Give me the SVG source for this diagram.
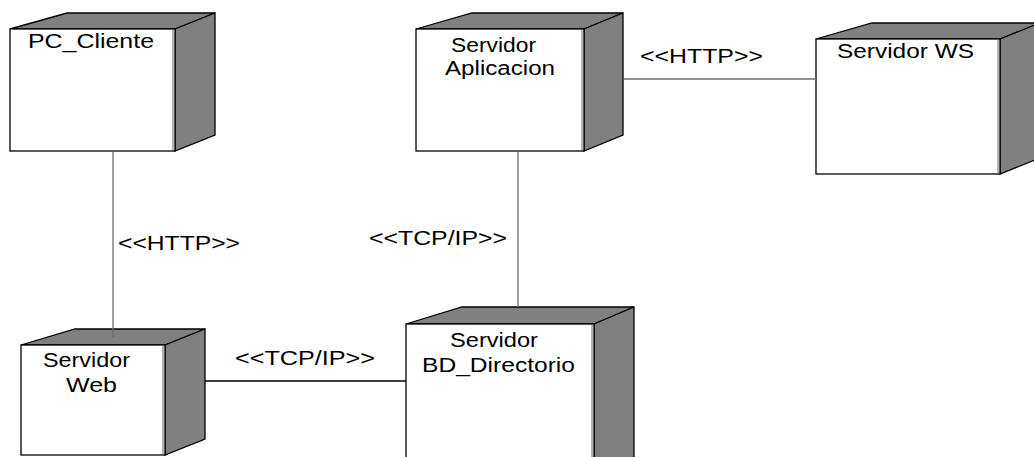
<svg xmlns="http://www.w3.org/2000/svg" width="1034" height="457" viewBox="0 0 1034 457">
  <style>
    .front { fill: #ffffff; stroke: #000000; stroke-width: 1.3; }
    .side { fill: #808080; stroke: #000000; stroke-width: 1.3; stroke-linejoin: miter; }
    .edge { stroke: #9a9a9a; stroke-width: 1.5; }
    .lbl { font-family: "Liberation Sans", Arial, sans-serif; font-size: 20px; fill: #000000; text-anchor: middle; }
    .conn { fill: none; stroke-width: 1.3; }
    .gray { stroke: #6e6e6e; }
    .dark { stroke: #000000; }
  </style>
  <rect width="1034" height="457" fill="#ffffff"/>

  <!-- PC_Cliente -->
  <g id="pc-cliente">
    <polygon class="side" points="10,29 67,13 215,13 175,29"/>
    <polygon class="side" points="175,29 215,13 215,135 175,151"/>
    <rect class="front" x="10" y="29" width="165" height="122"/>
    <line class="edge" x1="173" y1="30" x2="173" y2="150"/>
    <text class="lbl" x="91" y="48" textLength="126" lengthAdjust="spacingAndGlyphs">PC_Cliente</text>
  </g>

  <!-- Servidor Aplicacion -->
  <g id="servidor-aplicacion">
    <polygon class="side" points="416,29 472,13 623,13 584,29"/>
    <polygon class="side" points="584,29 623,13 623,135 584,151"/>
    <rect class="front" x="416" y="29" width="168" height="122"/>
    <line class="edge" x1="582" y1="30" x2="582" y2="150"/>
    <text class="lbl" x="493.5" y="52" textLength="85" lengthAdjust="spacingAndGlyphs">Servidor</text>
    <text class="lbl" x="500" y="75" textLength="110" lengthAdjust="spacingAndGlyphs">Aplicacion</text>
  </g>

  <!-- Servidor WS -->
  <g id="servidor-ws">
    <polygon class="side" points="816,39 872,23 1040,23 1000,39"/>
    <polygon class="side" points="1000,39 1040,23 1040,158 1000,174"/>
    <rect class="front" x="816" y="39" width="184" height="135"/>
    <line class="edge" x1="998" y1="40" x2="998" y2="173"/>
    <text class="lbl" x="905.5" y="58" textLength="137" lengthAdjust="spacingAndGlyphs">Servidor WS</text>
  </g>

  <!-- Servidor Web -->
  <g id="servidor-web">
    <polygon class="side" points="21,345 75,329 205,329 165,345"/>
    <polygon class="side" points="165,345 205,329 205,439 165,455"/>
    <rect class="front" x="21" y="345" width="144" height="110"/>
    <line class="edge" x1="163" y1="346" x2="163" y2="454"/>
    <text class="lbl" x="86.5" y="367" textLength="87" lengthAdjust="spacingAndGlyphs">Servidor</text>
    <text class="lbl" x="91.5" y="392" textLength="51" lengthAdjust="spacingAndGlyphs">Web</text>
  </g>

  <!-- Servidor BD_Directorio -->
  <g id="servidor-bd-directorio">
    <polygon class="side" points="406,324 462,307 634,307 594,324"/>
    <polygon class="side" points="594,324 634,307 634,457 594,474"/>
    <rect class="front" x="406" y="324" width="188" height="150"/>
    <line class="edge" x1="592" y1="325" x2="592" y2="473"/>
    <text class="lbl" x="494" y="347" textLength="88" lengthAdjust="spacingAndGlyphs">Servidor</text>
    <text class="lbl" x="498.5" y="372" textLength="153" lengthAdjust="spacingAndGlyphs">BD_Directorio</text>
  </g>

  <!-- communication links -->
  <g id="connectors">
    <line class="conn gray" x1="113" y1="152" x2="113" y2="337"/>
    <line class="conn gray" x1="518" y1="152" x2="518" y2="307"/>
    <line class="conn gray" x1="624" y1="79" x2="816" y2="79"/>
    <line class="conn dark" x1="205" y1="381" x2="406" y2="381"/>
    <text class="lbl" x="179" y="250" textLength="122" lengthAdjust="spacingAndGlyphs">&lt;&lt;HTTP&gt;&gt;</text>
    <text class="lbl" x="438" y="245" textLength="138" lengthAdjust="spacingAndGlyphs">&lt;&lt;TCP/IP&gt;&gt;</text>
    <text class="lbl" x="305" y="365" textLength="140" lengthAdjust="spacingAndGlyphs">&lt;&lt;TCP/IP&gt;&gt;</text>
    <text class="lbl" x="701.5" y="63" textLength="123" lengthAdjust="spacingAndGlyphs">&lt;&lt;HTTP&gt;&gt;</text>
  </g>
</svg>
